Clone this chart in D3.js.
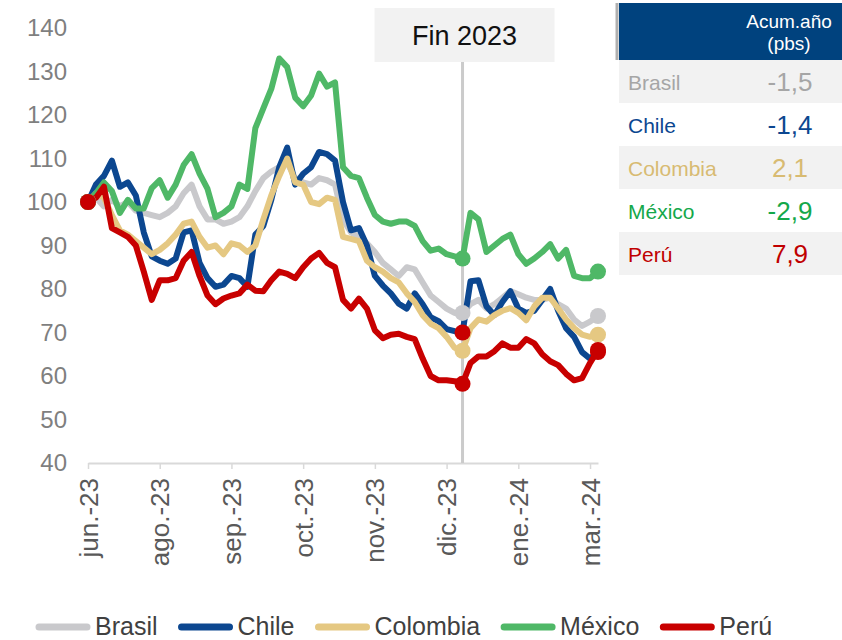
<!DOCTYPE html>
<html>
<head>
<meta charset="utf-8">
<script src="https://cdn.jsdelivr.net/npm/d3@7"></script>
<style>
  body { margin: 0; background: #fff; }
  svg { display: block; font-family: "Liberation Sans", Arial, sans-serif; }
</style>
</head>
<body>
<svg id="chart" width="842" height="640"></svg>
<script>
// tick labels of the category axis and where they sit (observation index)
const tickLabels = ["jun.-23", "ago.-23", "sep.-23", "oct.-23", "nov.-23", "dic.-23", "ene.-24", "mar.-24"];
const tickIndex = [0, 9, 18, 27, 36, 45, 54, 63];
const yTicks = [40, 50, 60, 70, 80, 90, 100, 110, 120, 130, 140];
const yearEndIndex = 47; // last observation of 2023

const countries = ["Brasil", "Chile", "Colombia", "México", "Perú"];

const brasil = [100,101,99,100.5,99,100,98,97.5,97,96.5, 97.5,99,102,104,99,96,96,95,95.5,96.5,
  99,102.5,105.5,107,108,109,105.5,104.5,104,105.5, 105,104,96,93,92,90.5,88.5,86,84.5,83,
  85,84.5,81.5,78.5,77,75.5,74.5,74.5,76.5,77.5, 75.5,76.5,78,79.5,78.8,78,77.5,77.5,78,76.5,
  75.5,73,71.5,72.5,73.8];
const chile = [100,104,106,109.5,103.5,104.5,101.5,93,87.5,86.5, 85.8,87,93,93.5,86,82.5,80.5,81,83,82.5,
  80.5,92.5,94.5,100.5,108,112.5,104,106.5,108,111.5, 111,109.5,100,93.5,94,90,83,80.8,79,76.6,
  75.5,79,76.5,73.5,72.6,70.8,70.3,70,81.8,82, 76,74,77,79.5,75.5,74.5,75,77.5,80,75,
  71,69,65.5,64,65.5];
const colombia = [100,102,101,97,93.5,92.5,91,89.5,88,89, 90.5,92.5,95,95.5,92,89.5,90,88,90.5,90,
  88.5,90,96,101.5,106,110,104.5,104,100,99.5, 101,100.5,92,91.5,91,86.5,85,84,82.5,81.5,
  79,77,74,72,71,69,66.5,65.8,71,73, 72.5,74,75,75.6,74.5,72.8,76,78,78,75.5,
  73,71,69.5,69,69.5];
const mexico = [100,102,104.5,102.5,97.5,100.5,98.5,98.5,103.2,105, 101,104,108.5,111,106.5,103,96.5,97.5,99,104,
  103,117,121.5,126,133,131,124,122,124.5,129.5, 126.5,127.5,108,106,105.5,101,97,95.5,95,95.5,
  95.5,94.5,91,88.8,89.3,88,87.5,87,97.5,96, 88.5,90,91.5,92.5,88,85.8,87,88.5,90.3,87,
  89,83,82.5,82.5,84];
const peru = [100,101,103.5,94,93,92,90,84,77.5,82, 82,82.5,86.5,88.5,83,78.5,76.5,77.8,78.5,79,
  81,79.6,79.5,82,84,83.5,82.5,85,87,88.3, 86,85,77.5,75.5,77.8,75.5,70.5,68.7,69.5,69.7,
  69,68.5,64,60,59,59,58.8,58.2,63,64.5, 64.5,65.7,67.5,66.5,66.5,68.5,67.5,65,63.4,62.5,
  60.5,59,59.5,63,66];

// year-to-date change shown in the table
const acumLabels = ["-1,5", "-1,4", "2,1", "-2,9", "7,9"];

const lineColors = ["#c9c9cc", "#0c4790", "#e5c882", "#4fb867", "#c80000"];
const markerColors = ["#c9c9cc", "#c80000", "#e5c882", "#4fb867", "#c80000"];
const textColors = ["#a6a6a6", "#0c4790", "#d8bb72", "#14a84a", "#c00000"];

const seriesValues = [brasil, chile, colombia, mexico, peru];
const series = countries.map((name, k) => ({
    name: name,
    values: seriesValues[k],
    color: lineColors[k],
    marker: markerColors[k],
    text: textColors[k],
    acum: acumLabels[k]
}));

const svg = d3.select("#chart");

const x = d3.scaleLinear().domain([0, brasil.length - 1]).range([88, 598]);
const y = d3.scaleLinear().domain([40, 140]).range([463, 28]);

// y axis: labels only
svg.append("g")
    .attr("transform", "translate(70,0)")
    .call(d3.axisLeft(y).tickValues(yTicks).tickSize(0).tickPadding(3))
    .call(g => g.select(".domain").remove())
    .selectAll("text")
    .attr("fill", "#7f7f7f")
    .style("font-size", "24px");

// x axis with rotated labels
const xAxis = svg.append("g")
    .attr("transform", "translate(0,463)")
    .call(d3.axisBottom(x).tickValues(tickIndex).tickFormat((d, i) => tickLabels[i]).tickSize(6).tickSizeOuter(0));
xAxis.select(".domain").attr("stroke", "#d9d9d9").attr("stroke-width", 2);
xAxis.selectAll(".tick line").attr("stroke", "#d9d9d9").attr("stroke-width", 1.5);
xAxis.selectAll("text")
    .attr("transform", "rotate(-90)")
    .attr("x", -15)
    .attr("y", 9)
    .attr("dy", 0)
    .attr("text-anchor", "end")
    .attr("fill", "#595959")
    .style("font-size", "26px");

// end of 2023 marker
svg.append("line")
    .attr("x1", x(yearEndIndex)).attr("x2", x(yearEndIndex))
    .attr("y1", 62).attr("y2", 463)
    .attr("stroke", "#cbcbcb")
    .attr("stroke-width", 3);

svg.append("rect")
    .attr("x", x(yearEndIndex) - 88).attr("y", 8)
    .attr("width", 180).attr("height", 54)
    .attr("fill", "#f2f2f2");

svg.append("text")
    .attr("x", x(yearEndIndex) + 2).attr("y", 45)
    .attr("text-anchor", "middle")
    .attr("fill", "#111")
    .style("font-size", "27px")
    .text("Fin 2023");

// lines
const line = d3.line()
    .x((d, i) => x(i))
    .y(d => y(d));

svg.append("g")
    .selectAll("path")
    .data(series)
    .enter().append("path")
    .attr("d", d => line(d.values))
    .attr("fill", "none")
    .attr("stroke", d => d.color)
    .attr("stroke-width", 6)
    .attr("stroke-linejoin", "round")
    .attr("stroke-linecap", "round");

// markers at start, year end and last value
const markers = [];
series.forEach(s => {
    [0, yearEndIndex, s.values.length - 1].forEach(i => {
        markers.push({ i: i, v: s.values[i], color: s.marker });
    });
});

svg.append("g")
    .selectAll("circle")
    .data(markers)
    .enter().append("circle")
    .attr("cx", d => x(d.i))
    .attr("cy", d => y(d.v))
    .attr("r", 8)
    .attr("fill", d => d.color);

// table on the right
const table = svg.append("g");
const tx0 = 619, tw = 842 - 619, rowH = 43, headH = 57, ty0 = 3;

table.append("rect")
    .attr("x", tx0).attr("y", ty0)
    .attr("width", tw).attr("height", headH)
    .attr("fill", "#00427e");
table.append("line")
    .attr("x1", 617).attr("x2", 617)
    .attr("y1", ty0).attr("y2", ty0 + headH)
    .attr("stroke", "#b0b0b0").attr("stroke-width", 3);
table.append("text")
    .attr("x", 789).attr("y", 28)
    .attr("text-anchor", "middle").attr("fill", "#fff")
    .style("font-size", "19px")
    .text("Acum.año");
table.append("text")
    .attr("x", 789).attr("y", 50)
    .attr("text-anchor", "middle").attr("fill", "#fff")
    .style("font-size", "19px")
    .text("(pbs)");

const rows = table.selectAll(".row")
    .data(series)
    .enter().append("g")
    .attr("class", "row")
    .attr("transform", (d, i) => `translate(0,${ty0 + headH + i * rowH})`);

rows.append("rect")
    .attr("x", tx0).attr("y", 0)
    .attr("width", tw).attr("height", rowH)
    .attr("fill", (d, i) => i % 2 === 0 ? "#f2f2f2" : "#fff");

rows.append("text")
    .attr("x", 628).attr("y", rowH / 2 + 8)
    .attr("fill", d => d.text)
    .style("font-size", "21px")
    .text(d => d.name);

rows.append("text")
    .attr("x", 790).attr("y", rowH / 2 + 9)
    .attr("text-anchor", "middle")
    .attr("fill", d => d.text)
    .style("font-size", "26px")
    .text(d => d.acum);

// legend along the bottom
const legend = svg.append("g");
let lx = 35;
series.forEach(s => {
    legend.append("line")
        .attr("x1", lx + 4).attr("x2", lx + 52)
        .attr("y1", 627).attr("y2", 627)
        .attr("stroke", s.color)
        .attr("stroke-width", 7)
        .attr("stroke-linecap", "round");
    const t = legend.append("text")
        .attr("x", lx + 60).attr("y", 635)
        .attr("fill", "#404040")
        .style("font-size", "25px")
        .text(s.name);
    lx += 60 + t.node().getComputedTextLength() + 20;
});
</script>
</body>
</html>
